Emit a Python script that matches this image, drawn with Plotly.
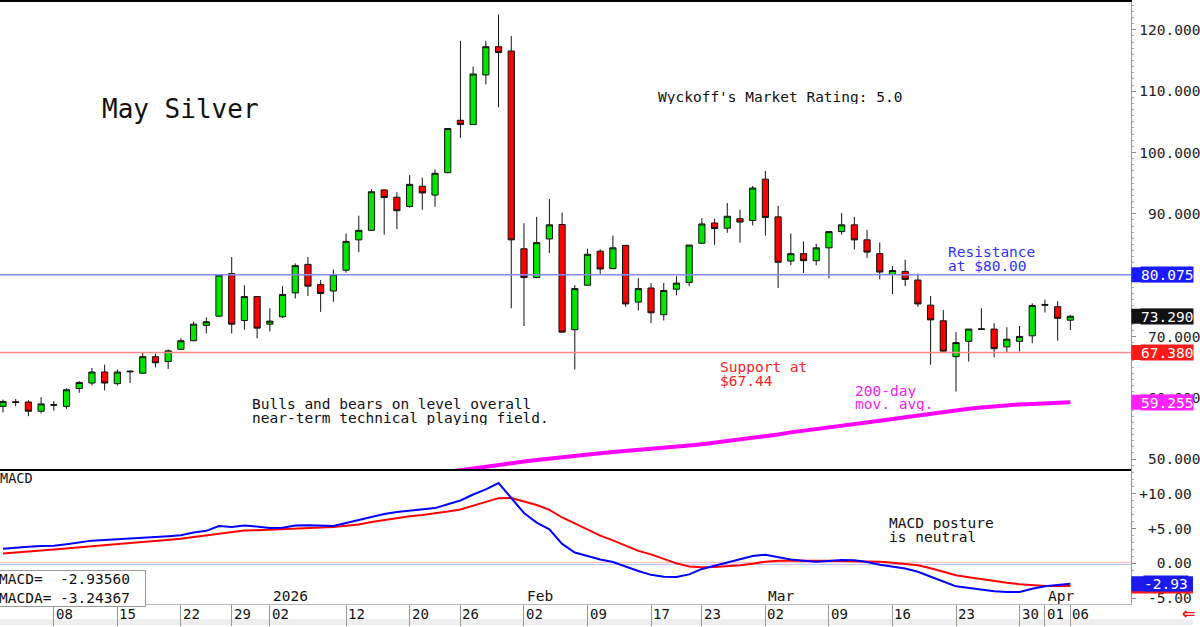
import pandas as pd
import plotly.graph_objects as go

# ---------------- data ----------------
holidays = ["2025-12-25", "2026-01-01", "2026-01-19", "2026-02-16", "2026-04-03"]
dates = [d.strftime("%Y-%m-%d") for d in pd.bdate_range("2025-12-02", "2026-04-06")
         if d.strftime("%Y-%m-%d") not in holidays]

opens = [58.6, 59.35, 59.3, 57.8, 58.9, 58.6, 61.5, 62.4, 64.2, 62.3,
         64.35, 64.0, 66.7, 65.9, 67.9, 69.3, 71.8, 73.3, 80.25, 72.6,
         76.5, 72.0, 73.2, 77.1, 81.75, 78.45, 77.4, 80.8, 85.75, 87.3,
         93.9, 92.7, 91.2, 94.5, 93.05, 96.7, 105.25, 104.55, 112.65, 117.25,
         116.55, 84.3, 79.6, 85.9, 88.25, 71.1, 78.35, 83.9, 81.05, 84.85,
         75.6, 77.9, 73.55, 77.7, 78.8, 85.2, 88.5, 87.65, 89.2, 88.9,
         95.65, 89.5, 82.3, 83.5, 82.35, 84.45, 87.1, 88.2, 85.75, 83.5,
         80.1, 80.6, 79.2, 75.1, 72.55, 66.7, 69.2, 71.25, 71.2, 68.3,
         69.2, 70.1, 75.2, 74.85, 72.65]
highs = [59.7, 59.8, 59.6, 60.1, 59.45, 61.55, 62.7, 64.85, 65.4, 64.6,
         64.45, 67.3, 67.2, 67.9, 69.7, 72.4, 73.1, 80.1, 82.95, 78.35,
         76.6, 74.6, 78.2, 81.9, 82.95, 79.2, 80.9, 86.8, 89.7, 94.0,
         94.0, 93.5, 96.3, 95.9, 97.25, 104.0, 118.2, 114.0, 118.2, 122.5,
         119.0, 88.45, 89.5, 92.4, 90.2, 78.35, 84.3, 84.2, 86.45, 84.9,
         79.5, 78.7, 78.7, 79.8, 84.9, 89.3, 89.2, 91.75, 90.65, 94.55,
         97.0, 91.3, 86.8, 85.5, 85.1, 87.1, 90.1, 89.5, 87.4, 85.3,
         81.5, 82.5, 80.25, 76.6, 74.3, 70.7, 71.2, 74.6, 72.15, 71.5,
         71.7, 75.4, 76.0, 75.75, 73.5]
lows = [57.6, 58.6, 57.0, 57.45, 57.9, 58.2, 60.8, 62.0, 61.2, 62.0,
        62.4, 63.9, 64.95, 64.7, 67.8, 69.2, 70.5, 73.2, 70.5, 71.1,
        69.7, 70.8, 73.0, 76.2, 76.6, 74.0, 75.65, 80.4, 83.75, 87.2,
        86.6, 87.5, 91.0, 90.65, 91.15, 96.6, 102.4, 104.5, 111.1, 107.35,
        74.6, 71.7, 79.5, 83.6, 70.6, 64.6, 78.3, 80.0, 81.0, 74.85,
        74.25, 72.15, 72.6, 76.7, 78.2, 85.1, 84.95, 86.9, 85.3, 88.1,
        86.45, 77.9, 81.6, 80.35, 81.6, 79.45, 86.6, 84.2, 82.8, 79.3,
        76.9, 78.2, 74.85, 65.4, 67.5, 61.0, 65.9, 71.1, 66.6, 67.3,
        67.55, 68.9, 73.9, 69.3, 71.05]
closes = [59.4, 59.25, 57.8, 59.0, 58.8, 61.3, 62.5, 64.2, 62.4, 64.2,
          64.25, 66.7, 65.7, 67.65, 69.3, 72.0, 72.4, 80.0, 72.0, 76.5,
          71.35, 72.5, 76.85, 81.55, 78.2, 77.0, 80.1, 85.5, 87.3, 93.6,
          92.65, 90.5, 94.8, 93.4, 96.6, 103.9, 104.55, 112.8, 117.25, 116.3,
          85.75, 79.6, 85.3, 88.2, 70.7, 77.8, 83.4, 81.0, 84.45, 75.3,
          77.8, 73.85, 77.5, 78.7, 84.9, 88.35, 87.6, 89.6, 88.65, 94.2,
          89.4, 82.1, 83.5, 82.35, 84.45, 87.1, 88.2, 85.75, 83.75, 80.5,
          80.75, 79.3, 75.3, 72.7, 67.6, 69.0, 71.2, 71.15, 68.0, 69.55,
          70.0, 75.05, 75.1, 72.95, 73.29]

# 200-day moving average (from index 35 onward; earlier values lie below the panel)
ma_start = 35
ma200 = [47.9, 48.2, 48.55, 48.85, 49.1, 49.35, 49.6, 49.85, 50.1, 50.35,
         50.6, 50.8, 50.95, 51.15, 51.3, 51.5, 51.7, 51.9, 52.05, 52.2,
         52.4, 52.65, 52.95, 53.2, 53.5, 53.7, 54.0, 54.35, 54.6, 54.9,
         55.15, 55.4, 55.7, 56.0, 56.25, 56.55, 56.85, 57.1, 57.4, 57.7,
         57.95, 58.2, 58.4, 58.6, 58.75, 58.9, 59.0, 59.1, 59.18, 59.255]

macd = [2.1, 2.3, 2.4, 2.5, 2.52, 2.75, 3.05, 3.27, 3.37, 3.45,
        3.57, 3.66, 3.78, 3.9, 4.05, 4.43, 4.68, 5.38, 5.24, 5.46,
        5.25, 5.1, 5.14, 5.45, 5.48, 5.46, 5.38, 5.8, 6.25, 6.7,
        7.1, 7.4, 7.6, 7.8, 7.95, 8.5, 9.05, 9.9, 10.65, 11.55,
        9.4, 7.25, 5.86, 4.9, 2.8, 1.57, 1.05, 0.55, 0.2, -0.5,
        -1.1, -1.65, -1.93, -1.95, -1.58, -0.8, -0.33, 0.05, 0.55, 1.05,
        1.25, 0.9, 0.55, 0.38, 0.25, 0.35, 0.47, 0.45, 0.2, -0.2,
        -0.45, -0.75, -1.2, -1.95, -2.6, -3.3, -3.55, -3.85, -4.0, -4.1,
        -4.1, -3.65, -3.3, -3.1, -2.9356]
macda = [1.43, 1.6, 1.72, 1.84, 1.98, 2.12, 2.3, 2.45, 2.6, 2.75,
         2.92, 3.08, 3.23, 3.38, 3.54, 3.8, 4.05, 4.32, 4.55, 4.72,
         4.78, 4.85, 4.9, 5.02, 5.12, 5.18, 5.23, 5.4, 5.6, 5.95,
         6.25, 6.5, 6.78, 6.95, 7.15, 7.45, 7.75, 8.3, 8.85, 9.38,
         9.4, 8.95, 8.4, 7.7, 6.6, 5.75, 4.9, 4.0, 3.3, 2.5,
         1.8, 1.3, 0.65, 0.0, -0.45, -0.55, -0.52, -0.45, -0.28, -0.05,
         0.25, 0.36, 0.38, 0.38, 0.38, 0.37, 0.34, 0.33, 0.33, 0.25,
         0.1, -0.07, -0.28, -0.7, -1.2, -1.7, -2.0, -2.3, -2.6, -2.8,
         -3.0, -3.15, -3.24, -3.25, -3.24367]

resistance = 80.075
support = 67.38
price_ticks = [50, 60, 70, 80, 90, 100, 110, 120]
price_tick_text = ["50.000", "60.000", "70.000", "", "90.000", "100.000", "110.000", "120.000"]
macd_ticks = [10, 5, 0, -5]
macd_tick_text = ["+10.00", "+5.00", "0.00", "-5.00"]
macd_badge_text = "-2.93"

tick_dates = ["2025-12-08", "2025-12-15", "2025-12-22", "2025-12-29", "2026-01-02",
              "2026-01-12", "2026-01-20", "2026-01-26", "2026-02-02", "2026-02-09",
              "2026-02-17", "2026-02-23", "2026-03-02", "2026-03-09", "2026-03-16",
              "2026-03-23", "2026-03-30", "2026-04-01", "2026-04-06"]
tick_labels = ["08", "15", "22", "29", "02", "12", "20", "26", "02", "09",
               "17", "23", "02", "09", "16", "23", "30", "01", "06"]
month_dates = ["2026-01-02", "2026-02-02", "2026-03-02", "2026-04-01"]
month_labels = ["2026", "Feb", "Mar", "Apr"]

# ---------------- figure ----------------
W, H = 1200, 627
MONO = "DejaVu Sans Mono"
NB = "\u00a0"
xd = 1138 / W
main_dom = [1 - 470 / H, 1.0]
macd_dom = [1 - 606 / H, 1 - 470 / H]
xr = [-0.235, 88.8]

fig = go.Figure()
fig.add_trace(go.Candlestick(
    x=dates, open=opens, high=highs, low=lows, close=closes,
    increasing=dict(line=dict(color="#111111", width=1), fillcolor="#00e600"),
    decreasing=dict(line=dict(color="#111111", width=1), fillcolor="#ff0000"),
    xaxis="x", yaxis="y", hoverinfo="skip", showlegend=False))
fig.add_trace(go.Scatter(
    x=dates[ma_start:], y=ma200, mode="lines",
    line=dict(color="#ff00ff", width=4), xaxis="x", yaxis="y",
    hoverinfo="skip", showlegend=False))
fig.add_trace(go.Scatter(
    x=dates, y=macda, mode="lines", line=dict(color="#ff0000", width=2),
    xaxis="x2", yaxis="y2", hoverinfo="skip", showlegend=False))
fig.add_trace(go.Scatter(
    x=dates, y=macd, mode="lines", line=dict(color="#0000ff", width=2),
    xaxis="x2", yaxis="y2", hoverinfo="skip", showlegend=False))

axis_font = dict(family=MONO, size=14.5, color="#222222")

fig.update_layout(
    width=W, height=H, margin=dict(l=0, r=0, t=0, b=0),
    paper_bgcolor="white", plot_bgcolor="white", showlegend=False,
    hovermode=False,
    xaxis=dict(domain=[0, xd], type="category", range=xr, anchor="y",
               showticklabels=False, ticks="", showgrid=False, zeroline=False,
               showline=True, linecolor="#000000", linewidth=2, mirror=True,
               rangeslider=dict(visible=False), categoryorder="array",
               categoryarray=dates),
    xaxis2=dict(domain=[0, xd], type="category", range=xr, anchor="y2",
                showticklabels=False, ticks="outside", ticklen=21, tickwidth=1,
                tickcolor="#999999", tickvals=tick_dates, showgrid=False,
                zeroline=False, showline=True, linecolor="#bbbbbb", linewidth=1,
                categoryorder="array", categoryarray=dates),
    yaxis=dict(domain=main_dom, range=[48.38, 124.54], side="right", anchor="x",
               tickvals=price_ticks,
               ticktext=[t.rjust(7, NB) if t else "" for t in price_tick_text],
               tickfont=axis_font, ticks="outside", ticklen=4, tickcolor="#888888",
               minor=dict(ticks="outside", ticklen=2, dtick=1, tickcolor="#aaaaaa"),
               showgrid=False, zeroline=False, showline=True,
               linecolor="#999999", linewidth=1),
    yaxis2=dict(domain=macd_dom, range=[-5.86, 13.57], side="right", anchor="x2",
                tickvals=macd_ticks,
                ticktext=[t.rjust(6, NB) for t in macd_tick_text],
                tickfont=axis_font, ticks="outside", ticklen=4, tickcolor="#888888",
                minor=dict(ticks="outside", ticklen=2, dtick=1, tickcolor="#aaaaaa"),
                showgrid=False, zeroline=False, showline=True,
                linecolor="#999999", linewidth=1),
)

shapes = [
    dict(type="rect", xref="paper", yref="paper", x0=0, x1=1, y0=0, y1=6 / H,
         fillcolor="#eeeeee", line=dict(width=0), layer="below"),
    dict(type="line", xref="x domain", yref="y", x0=0, x1=1, y0=resistance, y1=resistance,
         line=dict(color="#8888ff", width=1.5), layer="above"),
    dict(type="line", xref="x domain", yref="y", x0=0, x1=1, y0=support, y1=support,
         line=dict(color="#ff8888", width=1.5), layer="above"),
    dict(type="line", xref="x2 domain", yref="y2", x0=0, x1=1, y0=0.14, y1=0.14,
         line=dict(color="#ffb8b8", width=1), layer="below"),
    dict(type="line", xref="x2 domain", yref="y2", x0=0, x1=1, y0=-0.14, y1=-0.14,
         line=dict(color="#b8b8ff", width=1), layer="below"),
]

ann = []


def txt(x, y, s, color="#111111", size=14.5, xanchor="left", h=14):
    ann.append(dict(x=x / W, y=1 - y / H, xref="paper", yref="paper", text=s,
                    showarrow=False, xanchor=xanchor, yanchor="middle", height=h,
                    font=dict(family=MONO, size=size, color=color)))


txt(101, 108, "May Silver", size=26, h=30)
txt(660, 96, "Wyckoff's Market Rating: 5.0")
txt(251, 405, "Bulls and bears on level overall")
txt(251, 419, "near-term technical playing field.")
txt(952, 252, "Resistance", color="#3333ff")
txt(952, 266, "at $80.00", color="#3333ff")
txt(722, 367, "Support at", color="#ff2222")
txt(722, 381, "$67.44", color="#ff2222")
txt(858, 391, "200-day", color="#ee22ee")
txt(858, 405, "mov. avg.", color="#ee22ee")
txt(892, 524, "MACD posture")
txt(892, 538, "is neutral")
txt(-2, 479, "MACD", size=13.5)

# bottom-left MACD value box
ann.append(dict(x=-2 / W, y=1 - 590 / H, xref="paper", yref="paper",
                text=f"MACD=  {macd[-1]:.5f}<br>MACDA= {macda[-1]:.5f}",
                showarrow=False, xanchor="left", yanchor="middle", align="left",
                width=146,
                font=dict(family=MONO, size=14.5, color="#111111"),
                bgcolor="white", bordercolor="#999999", borderwidth=1, borderpad=0))

# date tick labels and month labels
for d, lab in zip(tick_dates, tick_labels):
    ann.append(dict(x=d, y=1 - 616 / H, xref="x2", yref="paper", text=lab,
                    showarrow=False, xanchor="left", yanchor="middle", xshift=0,
                    font=dict(family=MONO, size=14, color="#111111")))
for d, lab in zip(month_dates, month_labels):
    ann.append(dict(x=d, y=1 - 598 / H, xref="x2", yref="paper", text=lab,
                    showarrow=False, xanchor="left", yanchor="middle", xshift=1,
                    font=dict(family=MONO, size=14.5, color="#111111")))


def badge_box(yval, yref, bg):
    shapes.append(dict(type="rect", xref="paper", yref=yref, x0=xd, x1=1.0,
                       ysizemode="pixel", yanchor=yval, y0=-7.5, y1=7.5,
                       fillcolor=bg, line=dict(width=0), layer="above"))


def badge(yval, yref, label, bg, text_x):
    badge_box(yval, yref, bg)
    ann.append(dict(x=text_x / W, y=yval, xref="paper", yref=yref, text=label,
                    showarrow=False, xanchor="left", yanchor="middle", borderpad=0,
                    height=15, bgcolor=bg,
                    font=dict(family=MONO, size=14.5, color="white")))


badge(resistance, "y", f"{resistance:.3f}", "#1a1aff", 1147)
badge(closes[-1], "y", f"{closes[-1]:.3f}", "#111111", 1147)
badge(support, "y", f"{support:.3f}", "#ff1a1a", 1147)
badge(ma200[-1], "y", f"{ma200[-1]:.3f}", "#ff22ff", 1147)
badge_box(macda[-1], "y2", "#ff1a1a")
badge(macd[-1], "y2", macd_badge_text, "#1a1aee", 1150)

ann.append(dict(x=1195 / W, y=1 - 615 / H, xref="paper", yref="paper", text="<b>⇐</b>",
                showarrow=False, xanchor="center", yanchor="middle",
                font=dict(family="DejaVu Sans", size=16, color="#ee1111")))

fig.update_layout(shapes=shapes, annotations=ann)
fig.write_html("out.html")
